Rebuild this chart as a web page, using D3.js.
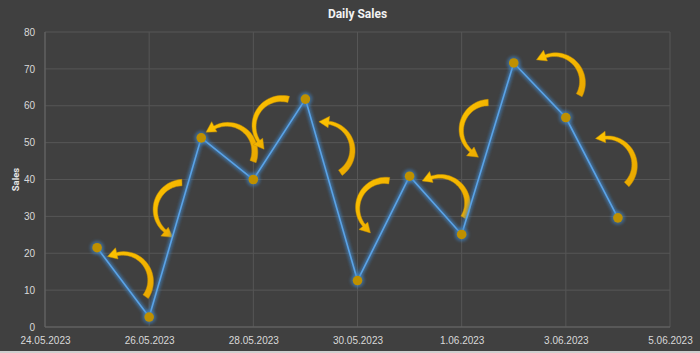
<!DOCTYPE html>
<html>
<head>
<meta charset="utf-8">
<script src="https://cdn.jsdelivr.net/npm/d3@7"></script>
<style>
body { margin: 0; background: #404040; }
svg { display: block; font-family: Roboto, "Noto Sans", sans-serif; }
</style>
</head>
<body>
<div id="chart"></div>
<script>
// sales per day
var dates = ["2023-05-25", "2023-05-26", "2023-05-27", "2023-05-28", "2023-05-29", "2023-05-30",
             "2023-05-31", "2023-06-01", "2023-06-02", "2023-06-03", "2023-06-04"];
var sales = [21.5, 2.7, 51.3, 40, 61.8, 12.6, 40.9, 25.1, 71.6, 56.8, 29.6];

// axis ticks
var tickDates = ["2023-05-24", "2023-05-26", "2023-05-28", "2023-05-30", "2023-06-01", "2023-06-03", "2023-06-05"];
var yTicks = [0, 10, 20, 30, 40, 50, 60, 70, 80];

// curved arrow annotations, one per segment (anchor in data units)
var arrowTimes = ["2023-05-25T12:00", "2023-05-26T15:30", "2023-05-27T12:00", "2023-05-28T13:00", "2023-05-29T09:00",
                  "2023-05-30T12:45", "2023-05-31T14:00", "2023-06-01T12:30", "2023-06-02T19:00", "2023-06-03T19:00"];
var arrowValues = [12.5, 31.7, 47.5, 54.5, 48, 32.3, 33.4, 53.4, 66.4, 43.9];

var margin = {top: 32, right: 30, bottom: 26, left: 45},
    W = 700, H = 353,
    width = W - margin.left - margin.right,
    height = H - margin.top - margin.bottom;

var parseDay = d3.timeParse("%Y-%m-%d"),
    parseTime = d3.timeParse("%Y-%m-%dT%H:%M"),
    fmt = d3.timeFormat("%-d.%m.%Y");

var data = dates.map(function(d, i) { return {date: parseDay(d), value: sales[i]}; });
var ticks = tickDates.map(parseDay);

var svg = d3.select("#chart").append("svg")
  .attr("width", W)
  .attr("height", H);

svg.append("rect").attr("width", W).attr("height", H).attr("fill", "#404040");
svg.append("rect").attr("y", H - 2).attr("width", W).attr("height", 2).attr("fill", "#cfcfcf");

var defs = svg.append("defs");
var glow = defs.append("filter").attr("id", "glow")
  .attr("x", "-20%").attr("y", "-20%").attr("width", "140%").attr("height", "140%");
glow.append("feGaussianBlur").attr("stdDeviation", 1.8);

var grad = defs.append("linearGradient").attr("id", "gold")
  .attr("x1", 0).attr("y1", 0).attr("x2", 1).attr("y2", 1);
grad.append("stop").attr("offset", "0%").attr("stop-color", "#ffc400");
grad.append("stop").attr("offset", "100%").attr("stop-color", "#e8a600");

var g = svg.append("g")
  .attr("transform", "translate(" + margin.left + "," + margin.top + ")");

var x = d3.scaleTime()
  .domain([ticks[0], ticks[ticks.length - 1]])
  .range([0, width]);

var y = d3.scaleLinear()
  .domain([0, 80])
  .range([height, 0]);

// grid
g.append("g")
  .selectAll("line")
  .data(yTicks)
  .join("line")
    .attr("x1", 0).attr("x2", width)
    .attr("y1", function(d) { return y(d); })
    .attr("y2", function(d) { return y(d); })
    .attr("stroke", "#565656");

g.append("g")
  .selectAll("line")
  .data(ticks)
  .join("line")
    .attr("x1", function(d) { return x(d); })
    .attr("x2", function(d) { return x(d); })
    .attr("y1", 0).attr("y2", height)
    .attr("stroke", "#565656");

g.append("line").attr("x1", 0).attr("x2", 0).attr("y1", 0).attr("y2", height).attr("stroke", "#666");
g.append("line").attr("x1", 0).attr("x2", width).attr("y1", height).attr("y2", height).attr("stroke", "#666");

// axes
var xAxis = g.append("g")
  .attr("transform", "translate(0," + height + ")")
  .call(d3.axisBottom(x).tickValues(ticks).tickFormat(fmt).tickSize(0).tickPadding(10));

var yAxis = g.append("g")
  .call(d3.axisLeft(y).tickValues(yTicks).tickSize(0).tickPadding(10));

[xAxis, yAxis].forEach(function(a) {
  a.select(".domain").remove();
  a.selectAll("text").attr("fill", "#d9d9d9").style("font-size", "10px");
});

// arrows
function arrowPath(cx, cy, apex) {
  var r = 27.5,
      a0 = apex + 72 * Math.PI / 180,
      a1 = apex - 66 * Math.PI / 180,
      n = 30, outer = [], inner = [];
  for (var i = 0; i <= n; i++) {
    var t = i / n,
        a = a0 + (a1 - a0) * t,
        w = 6.5 - 3.2 * t;
    outer.push([cx + (r + w / 2) * Math.cos(a), cy + (r + w / 2) * Math.sin(a)]);
    inner.push([cx + (r - w / 2) * Math.cos(a), cy + (r - w / 2) * Math.sin(a)]);
  }
  var tipA = a1 - 20 * Math.PI / 180;
  var head = [
    [cx + (r + 6.5) * Math.cos(a1), cy + (r + 6.5) * Math.sin(a1)],
    [cx + (r + 1.5) * Math.cos(tipA), cy + (r + 1.5) * Math.sin(tipA)],
    [cx + (r - 5) * Math.cos(a1), cy + (r - 5) * Math.sin(a1)]
  ];
  var pts = outer.concat(head, inner.reverse());
  return d3.line()(pts) + "Z";
}

var arrows = arrowTimes.map(function(t, i) {
  var p0 = data[i], p1 = data[i + 1];
  var ang = Math.atan2(y(p1.value) - y(p0.value), x(p1.date) - x(p0.date));
  return {cx: x(parseTime(t)), cy: y(arrowValues[i]), apex: ang - Math.PI / 2};
});

g.append("g")
  .selectAll("path")
  .data(arrows)
  .join("path")
    .attr("d", function(d) { return arrowPath(d.cx, d.cy, d.apex); })
    .attr("fill", "url(#gold)")
    .attr("stroke", "#c99200")
    .attr("stroke-width", 0.5);

// line with glow
var line = d3.line()
  .x(function(d) { return x(d.date); })
  .y(function(d) { return y(d.value); });

g.append("path")
  .datum(data)
  .attr("d", line)
  .attr("fill", "none")
  .attr("stroke", "#3f86c8")
  .attr("stroke-width", 5)
  .attr("stroke-opacity", 0.65)
  .attr("filter", "url(#glow)");

g.append("path")
  .datum(data)
  .attr("d", line)
  .attr("fill", "none")
  .attr("stroke", "#5ba3e6")
  .attr("stroke-width", 1.6);

g.append("g")
  .selectAll("circle")
  .data(data)
  .join("circle")
    .attr("cx", function(d) { return x(d.date); })
    .attr("cy", function(d) { return y(d.value); })
    .attr("r", 7)
    .attr("fill", "#3f86c8")
    .attr("opacity", 0.55)
    .attr("filter", "url(#glow)");

g.append("g")
  .selectAll("circle")
  .data(data)
  .join("circle")
    .attr("cx", function(d) { return x(d.date); })
    .attr("cy", function(d) { return y(d.value); })
    .attr("r", 4.8)
    .attr("fill", "#bf9000");

// titles
svg.append("text")
  .attr("x", margin.left + width / 2)
  .attr("y", 18)
  .attr("text-anchor", "middle")
  .attr("fill", "#f2f2f2")
  .style("font-size", "12px")
  .style("font-weight", "bold")
  .text("Daily Sales");

svg.append("text")
  .attr("transform", "translate(19," + (margin.top + height / 2) + ") rotate(-90)")
  .attr("text-anchor", "middle")
  .attr("fill", "#e6e6e6")
  .style("font-size", "9.5px")
  .style("font-weight", "bold")
  .text("Sales");
</script>
</body>
</html>
